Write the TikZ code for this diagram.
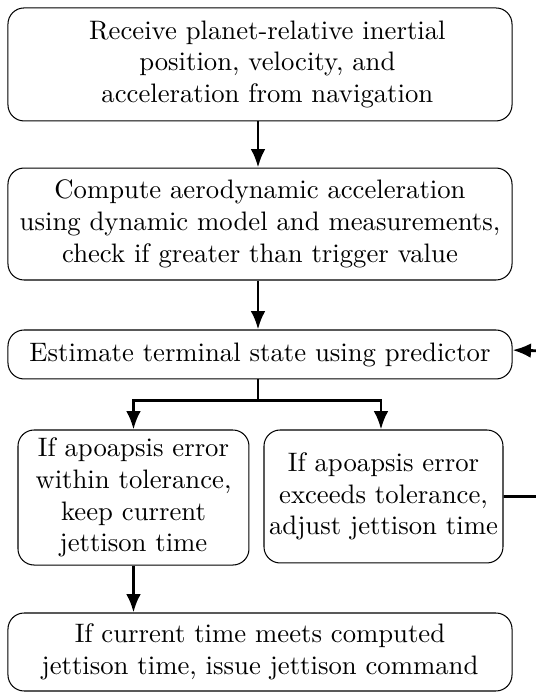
\documentclass[tikz,border=0pt]{standalone}
\usepackage{tikz}
\usetikzlibrary{calc}
\usetikzlibrary{math}
\usetikzlibrary{arrows.meta}

\begin{document}
\begin{tikzpicture}
    \tikzmath {
        \picW = 7.287;
        \picH = 9.452;
        \boxW = 6.865;
        \colX = 3.541;
    }
    
    \tikzstyle{a}=[draw, rounded corners=0.22cm, align=center, inner sep=0pt, minimum width=\boxW cm, font=\fontsize{10.35pt}{12.3pt}\selectfont]
    \tikzstyle{b}=[draw, rounded corners=0.22cm, align=center, inner sep=0pt, font=\fontsize{10.35pt}{12.3pt}\selectfont]
    \tikzstyle{flow}=[line width=1.1pt, -{Latex[length=2.5mm, width=2mm]}]
    
    \useasboundingbox (0,0) rectangle (\picW, \picH);
    
    \coordinate (receive_c) at (\colX, 8.574);
    \node[a, minimum height=1.539cm] (receive) at (receive_c) {\hspace*{0.2cm}Receive planet-relative inertial\\\hspace*{0.2cm}position, velocity, and\\\hspace*{0.2cm}acceleration from navigation};
    
    \coordinate (aero_c) at ($(receive_c) - (0, 2.173)$);
    \node[a, minimum height=1.525cm] (aero) at (aero_c) {Compute aerodynamic acceleration\\using dynamic model and measurements,\\check if greater than trigger value};
    
    \coordinate (predict_c) at ($(aero_c) - (0, 1.777)$);
    \node[a, minimum height=0.667cm] (predict) at (predict_c) {Estimate terminal state using predictor};
    
    \coordinate (keep_c) at (1.818, 2.676);
    \node[b, minimum width=3.146cm, minimum height=1.839cm] (keep) at (keep_c) {If apoapsis error\\within tolerance,\\keep current\\jettison time};
    
    \coordinate (adjust_c) at (5.223, 2.690);
    \node[b, minimum width=3.255cm, minimum height=1.811cm] (adjust) at (adjust_c) {If apoapsis error\\exceeds tolerance,\\adjust jettison time};
    
    \coordinate (issue_c) at (\colX, 0.572);
    \node[a, minimum height=1.062cm] (issue) at (issue_c) {If current time meets computed\\jettison time, issue jettison command};
    
    \draw[flow] ($(receive.south) - (0.027,0)$) -- ($(aero.north) - (0.027,0)$);
    \draw[flow] ($(aero.south) - (0.027,0)$) -- ($(predict.north) - (0.027,0)$);
    
    % split below the predictor
    \coordinate (split) at ($(predict.south) - (0.027, 0.285)$);
    \coordinate (adjust_x) at ($(adjust.north) - (0.034, 0)$);
    \path let \p1=(keep_c),\p2=(split) in coordinate (split_keep) at (\x1,\y2);
    \path let \p1=(adjust_x),\p2=(split) in coordinate (split_adjust) at (\x1,\y2);
    
    \draw[line width=1.1pt] ($(predict.south) - (0.027,0)$) -- (split);
    \draw[flow] (split) -- (split_keep) -- (keep.north);
    \draw[flow] (split) -- (split_adjust) -- (adjust_x);
    
    \path let \p1=(keep_c),\p2=(issue.north) in coordinate (issue_top) at (\x1,\y2);
    \draw[flow] (keep.south) -- (issue_top);
    
    % feedback loop, runs off the right edge
    \coordinate (loop_r) at ($(adjust.east) + (2.2, 0)$);
    \path let \p1=(loop_r),\p2=(predict.east) in coordinate (loop_t) at (\x1,\y2);
    \draw[flow] (adjust.east) -- (loop_r) -- (loop_t) -- ($(predict.east) + (0, 0.06)$);
\end{tikzpicture}
\end{document}
